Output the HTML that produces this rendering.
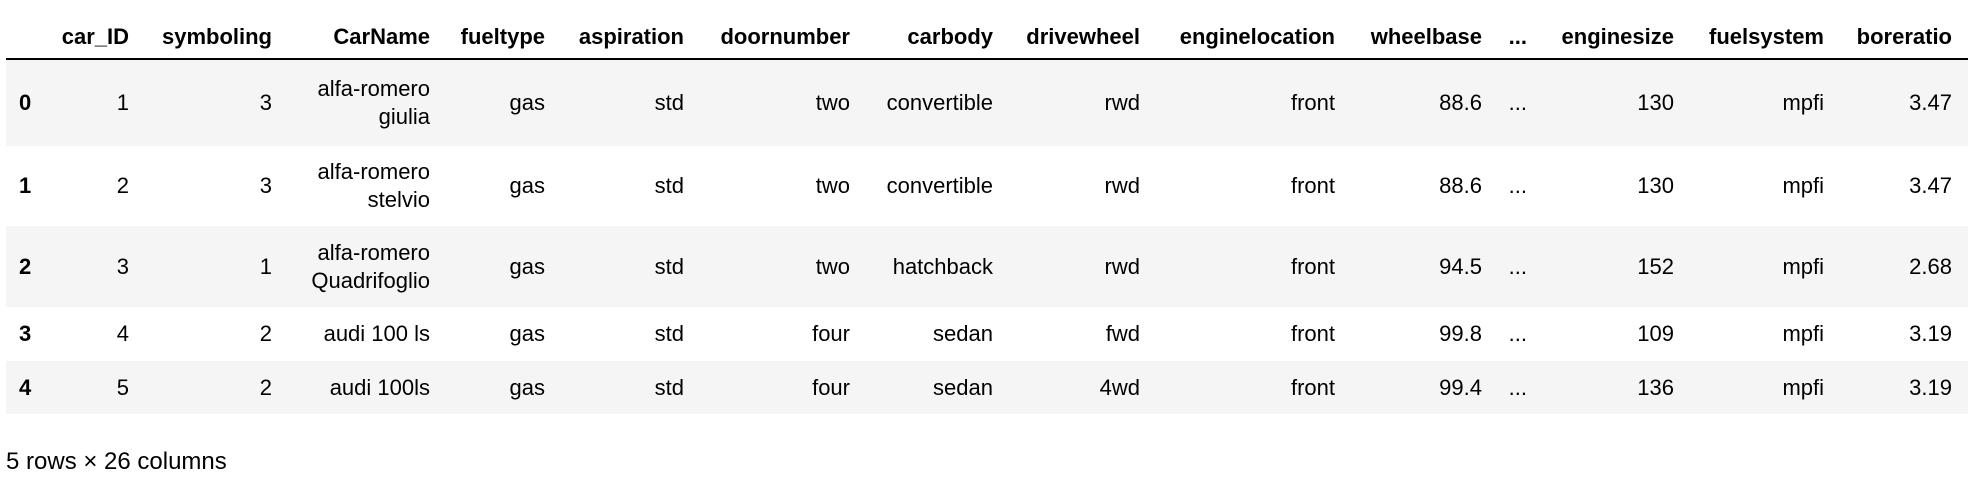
<!DOCTYPE html>
<html><head><meta charset="utf-8"><style>
body{margin:0;width:1976px;height:494px;background:#fff;font-family:"Liberation Sans",Arial,sans-serif;color:#000;position:relative;overflow:hidden}
.r{position:absolute;left:6px;width:1962px}
.s{background:#f5f5f5}
.r div{position:absolute;top:50%;transform:translate(-100%,-50%);font-size:22px;line-height:28px;text-align:right;white-space:nowrap}
.h div{font-weight:bold}
.r div.i{transform:translate(0,-50%);left:13px;font-weight:bold;text-align:left}
.c1{left:123px}.c2{left:266px}.c3{left:424px}.c4{left:539px}.c5{left:678px}.c6{left:844px}.c7{left:987px}.c8{left:1134px}.c9{left:1329px}.c10{left:1476px}.c11{left:1521px}.c12{left:1668px}.c13{left:1818px}.c14{left:1946px}
.line{position:absolute;left:6px;width:1962px;top:58px;height:2px;background:#000}
.foot{position:absolute;left:6px;top:448px;font-size:24px}
</style></head><body>
<div class="r h" style="top:14px;height:46px">
<div class="c1">car_ID</div><div class="c2">symboling</div><div class="c3">CarName</div><div class="c4">fueltype</div><div class="c5">aspiration</div><div class="c6">doornumber</div><div class="c7">carbody</div><div class="c8">drivewheel</div><div class="c9">enginelocation</div><div class="c10">wheelbase</div><div class="c11">...</div><div class="c12">enginesize</div><div class="c13">fuelsystem</div><div class="c14">boreratio</div>
</div>
<div class="line"></div>
<div class="r s" style="top:60px;height:86px">
<div class="i">0</div><div class="c1">1</div><div class="c2">3</div><div class="c3">alfa-romero<br>giulia</div><div class="c4">gas</div><div class="c5">std</div><div class="c6">two</div><div class="c7">convertible</div><div class="c8">rwd</div><div class="c9">front</div><div class="c10">88.6</div><div class="c11">...</div><div class="c12">130</div><div class="c13">mpfi</div><div class="c14">3.47</div>
</div>
<div class="r" style="top:146px;height:80px">
<div class="i">1</div><div class="c1">2</div><div class="c2">3</div><div class="c3">alfa-romero<br>stelvio</div><div class="c4">gas</div><div class="c5">std</div><div class="c6">two</div><div class="c7">convertible</div><div class="c8">rwd</div><div class="c9">front</div><div class="c10">88.6</div><div class="c11">...</div><div class="c12">130</div><div class="c13">mpfi</div><div class="c14">3.47</div>
</div>
<div class="r s" style="top:226px;height:81px">
<div class="i">2</div><div class="c1">3</div><div class="c2">1</div><div class="c3">alfa-romero<br>Quadrifoglio</div><div class="c4">gas</div><div class="c5">std</div><div class="c6">two</div><div class="c7">hatchback</div><div class="c8">rwd</div><div class="c9">front</div><div class="c10">94.5</div><div class="c11">...</div><div class="c12">152</div><div class="c13">mpfi</div><div class="c14">2.68</div>
</div>
<div class="r" style="top:307px;height:54px">
<div class="i">3</div><div class="c1">4</div><div class="c2">2</div><div class="c3">audi 100 ls</div><div class="c4">gas</div><div class="c5">std</div><div class="c6">four</div><div class="c7">sedan</div><div class="c8">fwd</div><div class="c9">front</div><div class="c10">99.8</div><div class="c11">...</div><div class="c12">109</div><div class="c13">mpfi</div><div class="c14">3.19</div>
</div>
<div class="r s" style="top:361px;height:53px">
<div class="i">4</div><div class="c1">5</div><div class="c2">2</div><div class="c3">audi 100ls</div><div class="c4">gas</div><div class="c5">std</div><div class="c6">four</div><div class="c7">sedan</div><div class="c8">4wd</div><div class="c9">front</div><div class="c10">99.4</div><div class="c11">...</div><div class="c12">136</div><div class="c13">mpfi</div><div class="c14">3.19</div>
</div>
<div class="foot">5 rows × 26 columns</div>
</body></html>
